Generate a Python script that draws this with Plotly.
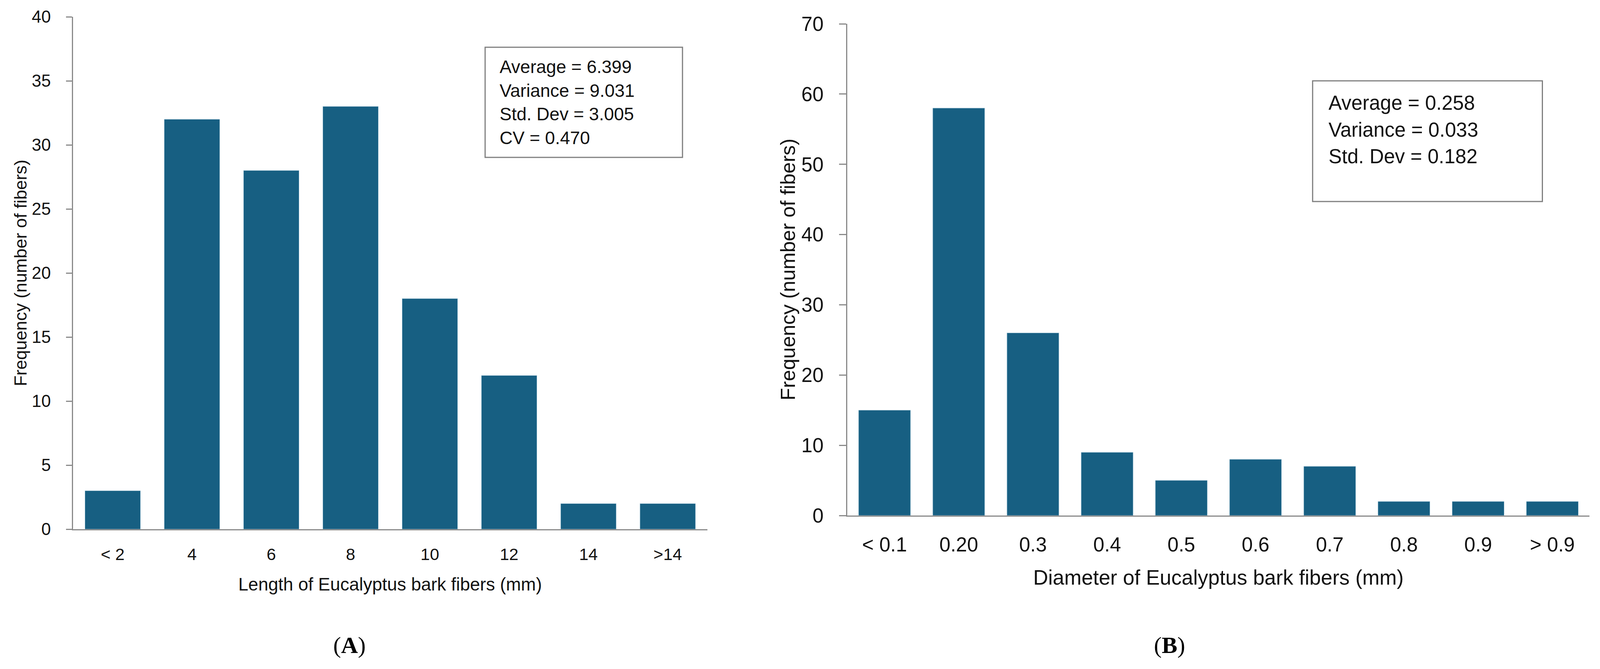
import plotly.graph_objects as go

# ---------------- data ----------------
length_bins = ["< 2", "4", "6", "8", "10", "12", "14", ">14"]
length_freq = [3, 32, 28, 33, 18, 12, 2, 2]

diam_bins = ["< 0.1", "0.20", "0.3", "0.4", "0.5", "0.6", "0.7", "0.8", "0.9", "> 0.9"]
diam_freq = [15, 58, 26, 9, 5, 8, 7, 2, 2, 2]

length_stats = ["Average = 6.399", "Variance = 9.031", "Std. Dev = 3.005", "CV = 0.470"]
diam_stats = ["Average = 0.258", "Variance = 0.033", "Std. Dev = 0.182"]

length_title = "Length of Eucalyptus bark fibers (mm)"
diam_title = "Diameter of Eucalyptus bark fibers (mm)"
y_title = "Frequency (number of fibers)"
panel_labels = ["A", "B"]

# ---------------- layout helpers ----------------
W, H = 4248, 1713
def px(x):
    return x / W
def py(y):
    return 1 - y / H

BAR = "#175F82"
AXIS = "#8a8a8a"
FONT = "Liberation Sans, Arial, sans-serif"
TXT = "#111111"

fig = go.Figure()
fig.add_trace(go.Bar(x=length_bins, y=length_freq, xaxis="x", yaxis="y",
                     marker=dict(color=BAR, line=dict(color="#a9c9da", width=1)),
                     showlegend=False, hoverinfo="x+y"))
fig.add_trace(go.Bar(x=diam_bins, y=diam_freq, xaxis="x2", yaxis="y2",
                     marker=dict(color=BAR, line=dict(color="#a9c9da", width=1)),
                     showlegend=False, hoverinfo="x+y"))

common_x = dict(type="category", showgrid=False, zeroline=False, showline=True,
                linecolor=AXIS, linewidth=3, ticks="", color=TXT, automargin=False)
common_y = dict(showgrid=False, zeroline=False, showline=True, linecolor=AXIS,
                linewidth=3, ticks="outside", tickcolor=AXIS, tickwidth=3, color=TXT,
                automargin=False)

fig.update_layout(
    template="none",
    width=W, height=H, autosize=False,
    margin=dict(l=0, r=0, t=0, b=0, pad=0, autoexpand=False),
    paper_bgcolor="white", plot_bgcolor="white",
    bargap=0.3,
    font=dict(family=FONT, color=TXT),
    xaxis=dict(common_x, domain=[px(194), px(1878)], anchor="y",
               tickfont=dict(size=43, family=FONT), ticklabelstandoff=24),
    yaxis=dict(common_y, domain=[py(1355), py(43)], anchor="x", range=[0, 40], dtick=5,
               ticklen=15, tickfont=dict(size=44, family=FONT), ticklabelstandoff=30),
    xaxis2=dict(common_x, domain=[px(2250), px(4220)], anchor="y2",
                tickfont=dict(size=51, family=FONT), ticklabelstandoff=28),
    yaxis2=dict(common_y, domain=[py(1320), py(61)], anchor="x2", range=[0, 70], dtick=10,
                ticklen=18, tickfont=dict(size=51, family=FONT), ticklabelstandoff=30),
)

ann = []
# axis titles
ann.append(dict(text=y_title, x=px(55), y=py(699), textangle=-90, font=dict(size=45)))
ann.append(dict(text=y_title, x=px(2092), y=py(690), textangle=-90, font=dict(size=52)))
ann.append(dict(text=length_title, x=px(1036), y=py(1496), font=dict(size=46)))
ann.append(dict(text=diam_title, x=px(3235), y=py(1478), font=dict(size=53)))
# panel labels
ann.append(dict(text="(<b>%s</b>)" % panel_labels[0], x=px(928), y=py(1652),
                font=dict(size=60, family="Liberation Serif, Times New Roman, serif", color="#000")))
ann.append(dict(text="(<b>%s</b>)" % panel_labels[1], x=px(3105), y=py(1652),
                font=dict(size=60, family="Liberation Serif, Times New Roman, serif", color="#000")))
# stats text
for i, s in enumerate(length_stats):
    ann.append(dict(text=s, x=px(1324), y=py(171 + 60.7 * i), xanchor="left",
                    font=dict(size=46)))
for i, s in enumerate(diam_stats):
    ann.append(dict(text=s, x=px(3525), y=py(264 + 68 * i), xanchor="left",
                    font=dict(size=51)))

for a in ann:
    a.setdefault("xanchor", "center")
    a.setdefault("yanchor", "middle")
    a.update(xref="paper", yref="paper", showarrow=False)
    a["font"].setdefault("family", FONT)
    a["font"].setdefault("color", TXT)
fig.update_layout(annotations=ann)

fig.update_layout(shapes=[
    dict(type="rect", xref="paper", yref="paper", x0=px(1288), x1=px(1812),
         y0=py(403), y1=py(121), line=dict(color="#7f7f7f", width=3), fillcolor="rgba(0,0,0,0)"),
    dict(type="rect", xref="paper", yref="paper", x0=px(3485), x1=px(4095),
         y0=py(516), y1=py(207), line=dict(color="#7f7f7f", width=3), fillcolor="rgba(0,0,0,0)"),
])

fit_js = (
    "document.documentElement.style.margin='0';"
    "document.body.style.margin='0';"
    "document.body.style.overflow='hidden';"
    "var gd=document.getElementById('{plot_id}');"
    "var vw=document.documentElement.clientWidth||window.innerWidth;"
    "var vh=document.documentElement.clientHeight||window.innerHeight;"
    "if(vw>0&&vh>0){Plotly.relayout(gd,{width:vw,height:vh});}"
)

fig.write_html("out.html", config={"displayModeBar": False}, post_script=fit_js)
